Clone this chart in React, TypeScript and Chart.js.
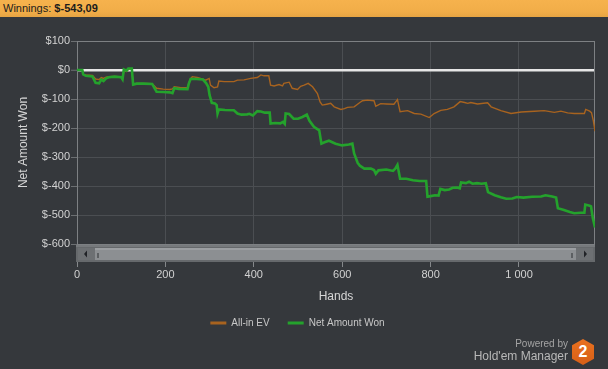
import React, { useEffect, useRef } from 'react';
import { Chart, registerables } from 'chart.js';

Chart.register(...registerables);

// ---- Data ----
const netHands = [0, 12, 14, 20, 35, 42, 50, 55, 60, 66, 72, 85, 100, 103, 106, 112, 116, 124, 127, 135, 150, 170, 180, 195, 210, 216, 220, 230, 250, 253, 257, 270, 285, 292, 297, 300, 305, 312, 316, 318, 321, 335, 355, 363, 372, 385, 390, 398, 408, 416, 425, 436, 438, 448, 460, 466, 470, 472, 480, 490, 500, 510, 520, 526, 536, 548, 553, 560, 570, 585, 600, 615, 623, 627, 635, 640, 650, 665, 672, 676, 682, 700, 715, 720, 725, 731, 745, 760, 775, 790, 793, 800, 810, 818, 822, 832, 842, 850, 860, 866, 869, 880, 887, 895, 905, 915, 925, 930, 945, 959, 971, 985, 995, 1010, 1030, 1050, 1060, 1075, 1084, 1088, 1100, 1115, 1125, 1140, 1148, 1150, 1160, 1163, 1167, 1172];
const netValues = [0, 0, -15, -20, -22, -44, -46, -33, -38, -29, -25, -23, -25, -32, 2, -2, 5, 5, -50, -47, -47, -48, -75, -76, -77, -80, -63, -65, -66, -47, -31, -31, -33, -45, -58, -87, -113, -115, -121, -150, -136, -138, -139, -150, -154, -153, -151, -157, -142, -143, -147, -147, -185, -183, -184, -179, -186, -150, -152, -168, -168, -162, -154, -175, -196, -208, -254, -249, -244, -254, -260, -257, -254, -288, -320, -330, -340, -340, -345, -358, -346, -343, -348, -340, -327, -375, -375, -380, -383, -383, -437, -435, -432, -433, -410, -414, -412, -406, -405, -408, -388, -390, -385, -392, -390, -392, -390, -421, -432, -439, -444, -443, -438, -440, -437, -436, -432, -436, -440, -477, -482, -490, -494, -492, -492, -464, -468, -470, -510, -543.09];

const evHands = [0, 12, 14, 20, 35, 42, 50, 55, 60, 66, 72, 85, 100, 103, 106, 112, 116, 124, 127, 135, 150, 170, 180, 195, 210, 216, 220, 235, 250, 253, 257, 261, 272, 283, 291, 299, 302, 310, 318, 321, 333, 355, 363, 378, 393, 408, 416, 423, 434, 438, 446, 457, 465, 468, 480, 487, 499, 506, 514, 523, 533, 544, 550, 555, 565, 574, 582, 597, 605, 612, 627, 640, 646, 657, 672, 676, 687, 700, 717, 722, 725, 731, 748, 763, 778, 797, 808, 823, 838, 853, 867, 877, 884, 891, 906, 929, 937, 959, 982, 1005, 1035, 1057, 1080, 1095, 1110, 1125, 1148, 1151, 1160, 1164, 1168, 1172];
const evValues = [0, 0, -15, -17, -19, -31, -33, -26, -29, -25, -23, -22, -24, -31, -3, -5, 2, 4, -50, -46, -46, -47, -63, -66, -67, -65, -58, -61, -61, -46, -30, -23, -26, -31, -35, -29, -52, -61, -58, -38, -40, -40, -35, -34, -29, -26, -17, -20, -20, -52, -55, -50, -55, -46, -42, -63, -67, -56, -52, -46, -58, -81, -110, -121, -118, -115, -127, -136, -133, -129, -127, -112, -106, -104, -106, -125, -116, -117, -118, -108, -102, -144, -140, -150, -152, -164, -150, -139, -136, -127, -109, -112, -115, -112, -117, -113, -127, -140, -150, -145, -142, -140, -146, -142, -148, -150, -150, -136, -142, -147, -173, -211];

const xTickValues = [0, 200, 400, 600, 800, 1000];
const xTickLabels = ['0', '200', '400', '600', '800', '1 000'];
const yTickValues = [100, 0, -100, -200, -300, -400, -500, -600];
const yTickLabels = ['$100', '$0', '$-100', '$-200', '$-300', '$-400', '$-500', '$-600'];

const seriesNames = ['All-in EV', 'Net Amount Won'];
const winningsLabel = 'Winnings:';
const winningsValue = '$-543,09';

const FONT = "'Liberation Sans', Arial, sans-serif";
const BG = '#35383c';
const ORANGE = '#a8631f';
const GREEN = '#24a22c';

const frameAndScrollbar = {
  id: 'frameAndScrollbar',
  beforeDatasetsDraw(chart: any) {
    const { ctx, chartArea: a } = chart;
    ctx.save();
    ctx.strokeStyle = '#7d8083';
    ctx.lineWidth = 1;
    ctx.strokeRect(a.left + 0.5, a.top + 0.5, a.right - a.left - 1, a.bottom - a.top);
    ctx.restore();
  },
  afterDraw(chart: any) {
    const { ctx, chartArea: a } = chart;
    const x0 = a.left - 1;
    const x1 = a.right;
    const y0 = a.bottom + 1;
    const h = 17;
    const w = x1 - x0;
    ctx.save();
    ctx.fillStyle = '#66696c';
    ctx.fillRect(x0, y0, w, h);
    ctx.fillStyle = '#76797c';
    ctx.fillRect(x0, y0, w, 2);
    // buttons
    ctx.fillStyle = '#6d7073';
    ctx.fillRect(x0 + 2, y0 + 3, 17, h - 5);
    ctx.fillRect(x1 - 19, y0 + 3, 17, h - 5);
    // thumb
    ctx.fillStyle = '#8c8f92';
    ctx.fillRect(x0 + 19, y0 + 3, w - 38, h - 5);
    ctx.fillStyle = '#9b9ea1';
    ctx.fillRect(x0 + 19, y0 + 3, w - 38, 2);
    // grips
    ctx.fillStyle = '#5c5f62';
    ctx.fillRect(x0 + 21, y0 + 8, 2, 5);
    ctx.fillRect(x1 - 24, y0 + 8, 2, 5);
    // arrows
    const cy = y0 + h / 2 + 0.5;
    ctx.fillStyle = '#202226';
    ctx.beginPath();
    ctx.moveTo(x0 + 8, cy);
    ctx.lineTo(x0 + 11, cy - 3.5);
    ctx.lineTo(x0 + 11, cy + 3.5);
    ctx.closePath();
    ctx.fill();
    ctx.beginPath();
    ctx.moveTo(x1 - 8, cy);
    ctx.lineTo(x1 - 11, cy - 3.5);
    ctx.lineTo(x1 - 11, cy + 3.5);
    ctx.closePath();
    ctx.fill();
    ctx.restore();
  },
};

export default function App() {
  const canvasRef = useRef<HTMLCanvasElement | null>(null);

  useEffect(() => {
    document.body.style.margin = '0';
    document.body.style.background = BG;
    const canvas = canvasRef.current;
    if (!canvas) return;
    const chart = new Chart(canvas, {
      type: 'line',
      data: {
        datasets: [
          {
            label: seriesNames[0],
            data: evHands.map((x, i) => ({ x, y: evValues[i] })),
            borderColor: ORANGE,
            backgroundColor: ORANGE,
            borderWidth: 1.4,
            pointRadius: 0,
            tension: 0,
            order: 1,
          },
          {
            label: seriesNames[1],
            data: netHands.map((x, i) => ({ x, y: netValues[i] })),
            borderColor: GREEN,
            backgroundColor: GREEN,
            borderWidth: 2.6,
            pointRadius: 0,
            tension: 0,
            order: 0,
          },
        ],
      },
      options: {
        responsive: false,
        animation: false,
        devicePixelRatio: 1,
        layout: { padding: { top: 41, left: 0, right: 13, bottom: 31 } },
        scales: {
          x: {
            type: 'linear',
            min: 0,
            max: 1172,
            afterBuildTicks: (s: any) => {
              s.ticks = xTickValues.map((value) => ({ value }));
            },
            afterFit: (s: any) => {
              s.height = 56;
            },
            border: { display: false },
            grid: {
              color: '#4b4e52',
              lineWidth: 1,
              tickLength: 23,
              tickColor: '#85888b',
              tickWidth: 1,
            },
            ticks: {
              autoSkip: false,
              maxRotation: 0,
              padding: 1,
              color: '#d2d2d2',
              font: { family: FONT, size: 11 },
              callback: (v: any) => {
                const k = xTickValues.indexOf(Math.round(Number(v)));
                return k >= 0 ? xTickLabels[k] : '';
              },
            },
            title: {
              display: true,
              text: 'Hands',
              color: '#d6d6d6',
              font: { family: FONT, size: 12 },
              padding: { top: 0, bottom: -4 },
            },
          },
          y: {
            min: -600,
            max: 100,
            afterBuildTicks: (s: any) => {
              s.ticks = yTickValues.map((value) => ({ value }));
            },
            afterFit: (s: any) => {
              s.width = 77;
            },
            border: { display: false },
            grid: {
              color: (c: any) => (c.tick && c.tick.value === 0 ? '#e6e6e6' : '#4b4e52'),
              lineWidth: (c: any) => (c.tick && c.tick.value === 0 ? 2.5 : 1),
              tickLength: 6,
              tickColor: '#6c6f72',
              tickWidth: 1,
            },
            ticks: {
              padding: 1,
              autoSkip: false,
              color: '#d2d2d2',
              font: { family: FONT, size: 11 },
              callback: (v: any) => {
                const k = yTickValues.indexOf(Math.round(Number(v)));
                return k >= 0 ? yTickLabels[k] : '';
              },
            },
            title: {
              display: true,
              text: 'Net Amount Won',
              color: '#d6d6d6',
              font: { family: FONT, size: 12 },
              padding: { top: 16, bottom: 0 },
            },
          },
        },
        plugins: {
          legend: {
            position: 'bottom',
            labels: {
              color: '#c8c8c8',
              font: { family: FONT, size: 10 },
              boxWidth: 16,
              boxHeight: 3,
              padding: 18,
              sort: (a: any, b: any) => a.datasetIndex - b.datasetIndex,
              generateLabels: (ch: any) =>
                (Chart.defaults.plugins.legend.labels as any)
                  .generateLabels(ch)
                  .map((l: any) => ({ ...l, lineWidth: 0 })),
            },
          },
          tooltip: { enabled: false },
        },
      },
      plugins: [frameAndScrollbar],
    } as any);
    return () => chart.destroy();
  }, []);

  return (
    <div style={{ position: 'relative', width: 608, height: 369, background: BG, overflow: 'hidden', fontFamily: FONT }}>
      <canvas ref={canvasRef} width={608} height={369} style={{ position: 'absolute', left: 0, top: 0 }} />
      <div
        style={{
          position: 'absolute',
          left: 0,
          top: 0,
          width: 608,
          height: 17,
          background: 'linear-gradient(#f6b24d, #f1ad48 70%, #e6a443)',
          color: '#1c1c1c',
          fontSize: 11,
          lineHeight: '17px',
          paddingLeft: 3,
          boxSizing: 'border-box',
        }}
      >
        {winningsLabel} <b>{winningsValue}</b>
      </div>
      <div
        style={{
          position: 'absolute',
          right: 40,
          top: 338,
          fontSize: 10,
          color: '#a4a4a4',
          lineHeight: '12px',
          textAlign: 'right',
        }}
      >
        Powered by
      </div>
      <div
        style={{
          position: 'absolute',
          right: 40,
          top: 349,
          fontSize: 12,
          color: '#b8b8b8',
          lineHeight: '14px',
          textAlign: 'right',
        }}
      >
        Hold'em Manager
      </div>
      <div
        style={{
          position: 'absolute',
          left: 572,
          top: 339,
          width: 22,
          height: 26,
          background: 'linear-gradient(#e9711f, #d65f17)',
          clipPath: 'polygon(50% 0, 100% 24%, 100% 76%, 50% 100%, 0 76%, 0 24%)',
          color: '#ffffff',
          fontWeight: 'bold',
          fontSize: 16,
          lineHeight: '26px',
          textAlign: 'center',
        }}
      >
        2
      </div>
    </div>
  );
}
